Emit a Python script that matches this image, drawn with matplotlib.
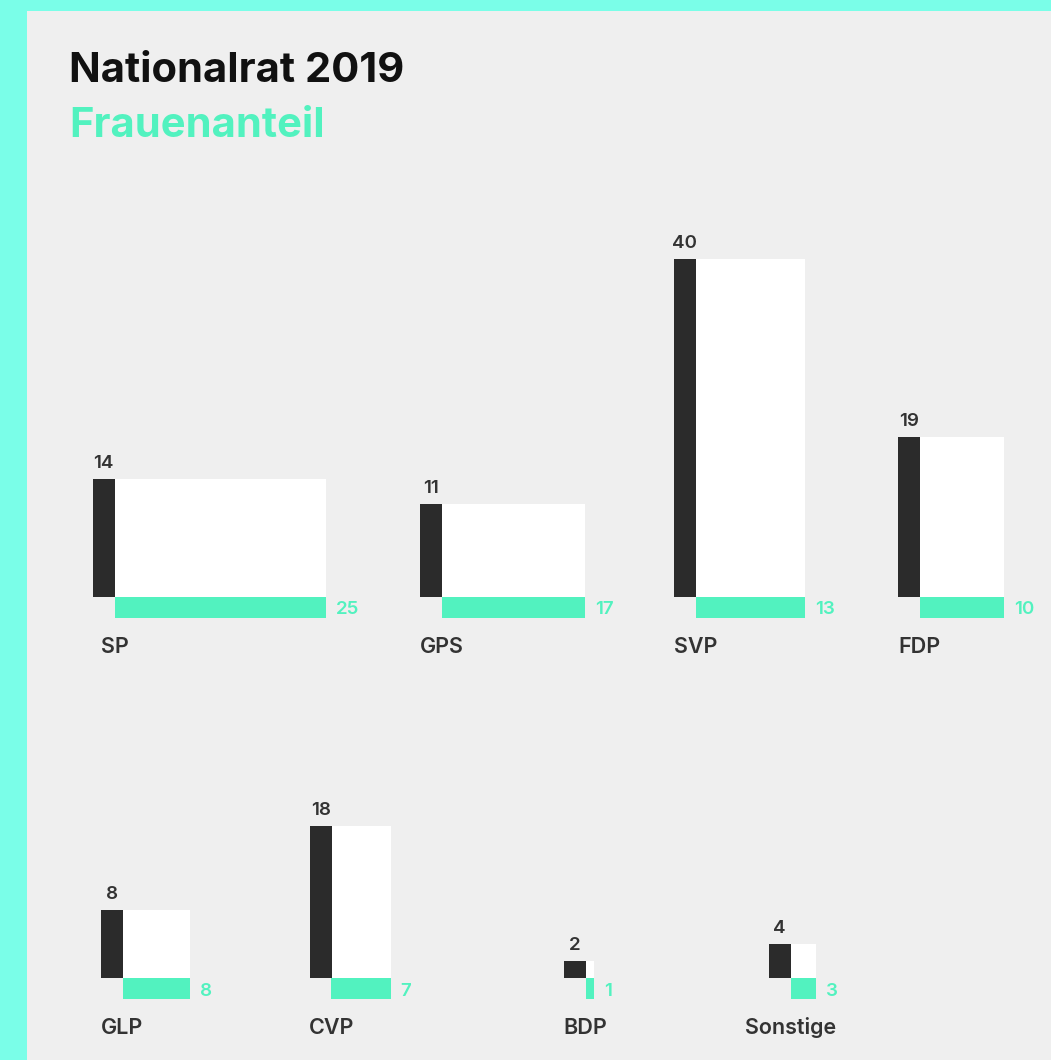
import matplotlib
matplotlib.use('Agg')
import matplotlib.pyplot as plt
from matplotlib.patches import Rectangle

# ---- data ----
parties = ['SP', 'GPS', 'SVP', 'FDP', 'GLP', 'CVP', 'BDP', 'Sonstige']
men = [14, 11, 40, 19, 8, 18, 2, 4]
women = [25, 17, 13, 10, 8, 7, 1, 3]
title = 'Nationalrat 2019'
subtitle = 'Frauenanteil'

# ---- layout (pixels) ----
W, H = 1051, 1060
PX = 8.44                      # pixels per seat
x_left = [93, 420, 674, 898, 101, 310, 564, 769]
row_base = [597] * 4 + [978] * 4
BW = 21.5 / PX                 # black bar width
GH = 20.5 / PX                 # green bar height

CYAN = '#7afee8'
PANEL = '#efefef'
BLACK = '#2b2b2b'
GREEN = '#52f2bf'
TEXT = '#333333'
TFONT = 'Inter'
FONT = 'Inter'

fig = plt.figure(figsize=(W / 100, H / 100), dpi=100)
fig.patch.set_facecolor(CYAN)
ax = fig.add_axes([0, 0, 1, 1])
ax.set_xlim(0, W / PX)
ax.set_ylim(0, H / PX)
ax.axis('off')

ax.add_patch(Rectangle((27 / PX, 0), (W - 27) / PX, (H - 11) / PX,
                       facecolor=PANEL, edgecolor='none', zorder=0))

ax.text(69 / PX, (H - 82) / PX, title, fontsize=30, fontweight='bold',
        family=TFONT, color='#111111', va='baseline', ha='left')
ax.text(69 / PX, (H - 137) / PX, subtitle, fontsize=30, fontweight='bold',
        family=TFONT, color=GREEN, va='baseline', ha='left')

for i, name in enumerate(parties):
    x0 = x_left[i] / PX
    y0 = (H - row_base[i]) / PX
    m, w = men[i], women[i]
    ax.bar(x0 + BW, m, width=w, bottom=y0, align='edge', color='white',
           linewidth=0, zorder=1)
    ax.bar(x0, m, width=BW, bottom=y0, align='edge', color=BLACK,
           linewidth=0, zorder=2)
    ax.barh(y0 - GH, w, height=GH, left=x0 + BW, align='edge', color=GREEN,
            linewidth=0, zorder=2)
    ax.text(x0 + BW / 2, y0 + m + 11 / PX, str(m), ha='center', va='baseline',
            fontsize=13.5, family=FONT, fontweight='semibold', color=TEXT)
    ax.text(x0 + BW + w + 10 / PX, y0 - 17.5 / PX, str(w), ha='left',
            va='baseline', fontsize=13.5, family=FONT, fontweight='semibold',
            color=GREEN)
    ax.text(x0 + BW, y0 - 56 / PX, name, ha='center', va='baseline',
            fontsize=15.5, family=FONT, fontweight='semibold', color=TEXT)

fig.savefig('out.png', dpi=100, facecolor=CYAN)
